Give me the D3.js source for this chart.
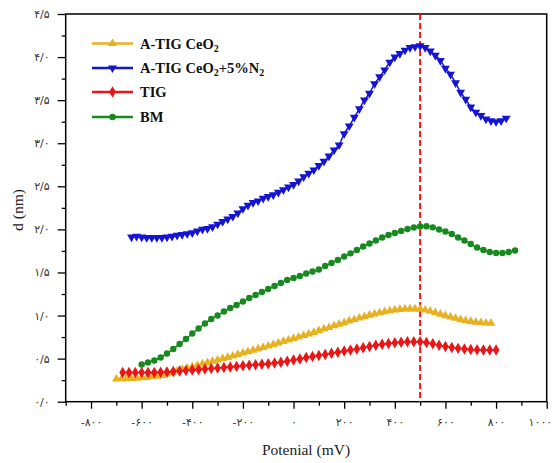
<!DOCTYPE html>
<html>
<head>
<meta charset="utf-8">
<script src="https://cdn.jsdelivr.net/npm/d3@7"></script>
<style>
  body { margin: 0; background: #fff; }
  svg { display: block; }
</style>
</head>
<body>
<svg id="chart"></svg>
<script>
// Potential (mV) / d (nm) data
var xCeO2 = [-700,-680,-660,-640,-620,-600,-580,-560,-540,-520,-500,-480,-460,-440,-420,-400,-380,-360,-340,-320,-300,-280,-260,-240,-220,-200,-180,-160,-140,-120,-100,-80,-60,-40,-20,0,20,40,60,80,100,120,140,160,180,200,220,240,260,280,300,320,340,360,380,400,420,440,460,480,500,520,540,560,580,600,620,640,660,680,700,720,740,760,780];
var yCeO2 = [0.263,0.266,0.268,0.270,0.274,0.279,0.283,0.289,0.296,0.306,0.321,0.339,0.356,0.374,0.391,0.406,0.422,0.438,0.453,0.469,0.484,0.499,0.515,0.530,0.548,0.565,0.581,0.597,0.612,0.629,0.646,0.664,0.681,0.699,0.716,0.734,0.751,0.768,0.786,0.805,0.824,0.844,0.861,0.881,0.899,0.918,0.937,0.954,0.971,0.988,1.004,1.018,1.032,1.045,1.055,1.064,1.071,1.076,1.078,1.078,1.074,1.064,1.050,1.033,1.016,0.998,0.983,0.968,0.953,0.941,0.931,0.923,0.917,0.913,0.911];

var xCeO2N2 = [-640,-620,-600,-580,-560,-540,-520,-500,-480,-460,-440,-420,-400,-380,-360,-340,-320,-300,-280,-260,-240,-220,-200,-180,-160,-140,-120,-100,-80,-60,-40,-20,0,20,40,60,80,100,120,140,160,180,200,220,240,260,280,300,320,340,360,380,400,420,440,460,480,500,520,540,560,580,600,620,640,660,680,700,720,740,760,780,800,820,840];
var yCeO2N2 = [1.91,1.92,1.91,1.905,1.905,1.905,1.905,1.91,1.92,1.93,1.94,1.95,1.96,1.98,2.00,2.01,2.03,2.06,2.09,2.12,2.15,2.19,2.24,2.28,2.31,2.33,2.36,2.38,2.40,2.43,2.46,2.49,2.52,2.56,2.61,2.65,2.69,2.74,2.79,2.85,2.92,2.98,3.11,3.20,3.30,3.40,3.50,3.58,3.69,3.77,3.85,3.94,4.00,4.04,4.08,4.11,4.12,4.13,4.11,4.07,4.02,3.96,3.87,3.80,3.70,3.59,3.51,3.42,3.36,3.32,3.28,3.26,3.25,3.26,3.29];

var xTIG = [-675,-650,-625,-600,-575,-550,-525,-500,-475,-450,-425,-400,-375,-350,-325,-300,-275,-250,-225,-200,-175,-150,-125,-100,-75,-50,-25,0,25,50,75,100,125,150,175,200,225,250,275,300,325,350,375,400,425,450,475,500,525,550,575,600,625,650,675,700,725,750,775,800];
var yTIG = [0.338,0.338,0.338,0.338,0.338,0.339,0.341,0.345,0.351,0.356,0.362,0.368,0.374,0.380,0.385,0.391,0.397,0.403,0.410,0.416,0.422,0.428,0.434,0.440,0.449,0.458,0.470,0.484,0.496,0.513,0.525,0.536,0.548,0.562,0.575,0.588,0.600,0.612,0.627,0.641,0.655,0.666,0.675,0.684,0.691,0.695,0.697,0.695,0.686,0.672,0.655,0.640,0.628,0.619,0.612,0.606,0.602,0.600,0.600,0.600];

var xBM = [-600,-575,-550,-525,-500,-475,-450,-425,-400,-375,-350,-325,-300,-275,-250,-225,-200,-175,-150,-125,-100,-75,-50,-25,0,25,50,75,100,125,150,175,200,225,250,275,300,325,350,375,400,425,450,475,500,525,550,575,600,625,650,675,700,725,750,775,800,825,850,875];
var yBM = [0.432,0.455,0.478,0.513,0.559,0.612,0.670,0.728,0.792,0.850,0.908,0.960,1.000,1.047,1.088,1.122,1.163,1.204,1.238,1.273,1.308,1.343,1.378,1.413,1.436,1.459,1.488,1.511,1.534,1.575,1.610,1.645,1.685,1.722,1.761,1.801,1.836,1.871,1.906,1.935,1.958,1.981,2.004,2.022,2.033,2.036,2.024,1.999,1.975,1.946,1.906,1.871,1.830,1.790,1.761,1.737,1.726,1.726,1.737,1.755];

var peakPotential = 500;

var xTicks = [-800,-600,-400,-200,0,200,400,600,800,1000];
var xTickLabels = ['-۸۰۰','-۶۰۰','-۴۰۰','-۲۰۰','۰','۲۰۰','۴۰۰','۶۰۰','۸۰۰','۱۰۰۰'];
var yTicks = [0,0.5,1,1.5,2,2.5,3,3.5,4,4.5];
var yTickLabels = ['۰/۰','۰/۵','۱/۰','۱/۵','۲/۰','۲/۵','۳/۰','۳/۵','۴/۰','۴/۵'];

var seriesNames = ['A-TIG CeO|2', 'A-TIG CeO|2|+5%N|2', 'TIG', 'BM'];

var W = 552, H = 463;
var m = { left: 65.7, right: 5.3, top: 14, bottom: 61.3 };
var w = W - m.left - m.right;
var h = H - m.top - m.bottom;

var svg = d3.select("#chart")
    .attr("width", W)
    .attr("height", H);

var chart = svg.append("g")
    .attr("transform", "translate(" + m.left + "," + m.top + ")");

var x = d3.scaleLinear().domain([-900, 1000]).range([0, w]);
var y = d3.scaleLinear().domain([0, 4.5]).range([h, 0]);

// minor ticks
var xMinor = d3.range(-900, 1001, 100).filter(function (v) { return xTicks.indexOf(v) < 0; });
var yMinor = d3.range(0.25, 4.5, 0.5);

chart.append("g")
    .attr("transform", "translate(0," + h + ")")
    .call(d3.axisBottom(x).tickValues(xMinor).tickSize(4).tickFormat(""))
    .call(function (g) { g.select(".domain").remove(); g.selectAll("line").attr("stroke-width", 1.3); });
chart.append("g")
    .call(d3.axisLeft(y).tickValues(yMinor).tickSize(4).tickFormat(""))
    .call(function (g) { g.select(".domain").remove(); g.selectAll("line").attr("stroke-width", 1.3); });

// major ticks + labels
var gX = chart.append("g")
    .attr("transform", "translate(0," + h + ")")
    .call(d3.axisBottom(x).tickValues(xTicks).tickSize(7).tickPadding(10)
        .tickFormat(function (d, i) { return xTickLabels[i]; }));
var gY = chart.append("g")
    .call(d3.axisLeft(y).tickValues(yTicks).tickSize(8).tickPadding(8)
        .tickFormat(function (d, i) { return yTickLabels[i]; }));

[gX, gY].forEach(function (g) {
    g.select(".domain").remove();
    g.selectAll("line").attr("stroke-width", 1.3);
    g.selectAll("text")
        .style("font-family", "'DejaVu Sans', sans-serif")
        .style("font-size", "11px")
        .attr("fill", "#333");
});
// last label sits on the right edge, keep it inside the page
gX.selectAll(".tick").filter(function (d) { return d == 1000; }).select("text")
    .attr("text-anchor", "end")
    .attr("dx", 5);

// frame
chart.append("rect")
    .attr("width", w)
    .attr("height", h)
    .attr("fill", "none")
    .attr("stroke", "#000")
    .attr("stroke-width", 1.5);

// peak marker line
chart.append("line")
    .attr("x1", x(peakPotential)).attr("x2", x(peakPotential))
    .attr("y1", 0).attr("y2", h)
    .attr("stroke", "#ff1010")
    .attr("stroke-width", 2)
    .attr("stroke-dasharray", "6,3");

var series = [
    { xs: xCeO2, ys: yCeO2, color: "#e8b121", sym: d3.symbolTriangle, size: 34, rot: 0 },
    { xs: xCeO2N2, ys: yCeO2N2, color: "#1414d2", sym: d3.symbolTriangle, size: 34, rot: 180 },
    { xs: xTIG, ys: yTIG, color: "#e81616", sym: d3.symbolDiamond, size: 38, rot: 0 },
    { xs: xBM, ys: yBM, color: "#178a1f", sym: d3.symbolCircle, size: 32, rot: 0 }
];

var line = d3.line()
    .x(function (d) { return x(d[0]); })
    .y(function (d) { return y(d[1]); })
    .curve(d3.curveMonotoneX);

series.forEach(function (s) {
    var pts = s.xs.map(function (v, i) { return [v, s.ys[i]]; });
    chart.append("path")
        .attr("d", line(pts))
        .attr("fill", "none")
        .attr("stroke", s.color)
        .attr("stroke-width", 1.5);
    chart.append("g").selectAll("path")
        .data(pts)
        .enter().append("path")
        .attr("d", d3.symbol().type(s.sym).size(s.size))
        .attr("transform", function (d) {
            return "translate(" + x(d[0]) + "," + y(d[1]) + ") rotate(" + s.rot + ")";
        })
        .attr("fill", s.color);
});

// legend
var legend = svg.append("g");
var legendY = [43.5, 68, 92, 117];
series.forEach(function (s, i) {
    var row = legend.append("g").attr("transform", "translate(0," + legendY[i] + ")");
    row.append("line")
        .attr("x1", 92).attr("x2", 133)
        .attr("stroke", s.color).attr("stroke-width", 2.5);
    row.append("path")
        .attr("d", d3.symbol().type(s.sym).size(s.size))
        .attr("transform", "translate(112.5,0) rotate(" + s.rot + ")")
        .attr("fill", s.color);
    var t = row.append("text")
        .attr("x", 140).attr("y", 5)
        .style("font-family", "'Liberation Serif', serif")
        .style("font-weight", "bold")
        .style("font-size", "14.5px")
        .attr("fill", "#111");
    // '|' toggles subscript
    var parts = seriesNames[i].split("|");
    parts.forEach(function (p, j) {
        if (!p) return;
        var sub = j % 2 == 1;
        t.append("tspan")
            .attr("dy", sub ? 3 : (j > 0 ? -3 : 0))
            .style("font-size", sub ? "10px" : "14.5px")
            .text(p);
    });
});

// axis titles
svg.append("text")
    .attr("x", 306).attr("y", 455)
    .attr("text-anchor", "middle")
    .style("font-family", "'Liberation Serif', serif")
    .style("font-size", "15.5px")
    .attr("fill", "#222")
    .text("Potenial (mV)");
svg.append("text")
    .attr("transform", "translate(23,210) rotate(-90)")
    .attr("text-anchor", "middle")
    .style("font-family", "'Liberation Serif', serif")
    .style("font-size", "15.5px")
    .attr("fill", "#222")
    .text("d (nm)");
</script>
</body>
</html>
